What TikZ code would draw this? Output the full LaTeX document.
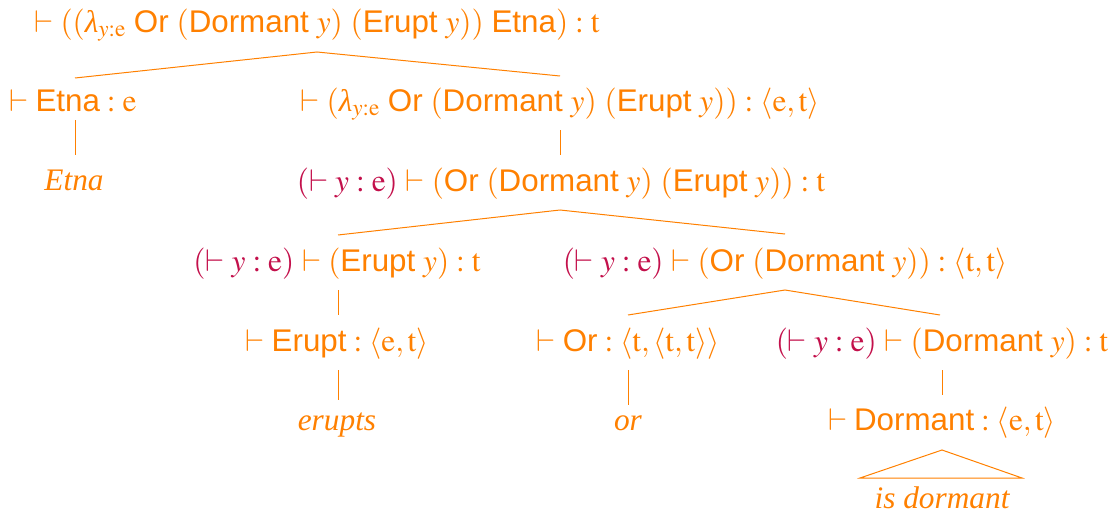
\documentclass[tikz,border=0pt]{standalone}
\usepackage{mathptmx}
\usepackage[no-math]{fontspec}
\setmainfont{Liberation Serif}
\setsansfont{Liberation Sans}
\usetikzlibrary{calc}
\definecolor{termcol}{RGB}{255,128,0}
\definecolor{hypcol}{RGB}{195,16,75}
\newcommand\konst[1]{\textsf{#1}}
\newcommand\lam{\mbox{\itshape λ}}
\newcommand\hyp{\textcolor{hypcol}{$(\vdash y:\mathrm{e})$}}
\begin{document}
\begin{tikzpicture}[x=0.75pt,y=-0.75pt,
  lbl/.style={anchor=base, inner sep=0pt, text=termcol, font=\fontsize{23.5}{28}\selectfont},
  br/.style={draw=termcol, line width=0.75pt}]
\useasboundingbox (0,0) rectangle (1117,514);

% derivation nodes
\node[lbl] (root) at (317,32) {$\vdash ((\lam_{y:\mathrm{e}}\ \konst{Or}\ (\konst{Dormant}\ y)\ (\konst{Erupt}\ y))\ \konst{Etna}) : \mathrm{t}$};
\node[lbl] (etna) at (73,111) {$\vdash \konst{Etna} : \mathrm{e}$};
\node[lbl] (abs) at (560,111) {$\vdash (\lam_{y:\mathrm{e}}\ \konst{Or}\ (\konst{Dormant}\ y)\ (\konst{Erupt}\ y)) : \langle\mathrm{e},\mathrm{t}\rangle$};
\node[lbl] (etnaw) at (74,190) {\itshape Etna};
\node[lbl] (body) at (561,191) {\hyp\ $\vdash (\konst{Or}\ (\konst{Dormant}\ y)\ (\konst{Erupt}\ y)) : \mathrm{t}$};
\node[lbl] (erY) at (337,271) {\hyp\ $\vdash (\konst{Erupt}\ y) : \mathrm{t}$};
\node[lbl] (orD) at (785,271) {\hyp\ $\vdash (\konst{Or}\ (\konst{Dormant}\ y)) : \langle\mathrm{t},\mathrm{t}\rangle$};
\node[lbl] (erupt) at (337,351) {$\vdash \konst{Erupt} : \langle\mathrm{e},\mathrm{t}\rangle$};
\node[lbl] (or) at (628,351) {$\vdash \konst{Or} : \langle\mathrm{t},\langle\mathrm{t},\mathrm{t}\rangle\rangle$};
\node[lbl] (dormY) at (942,351) {\hyp\ $\vdash (\konst{Dormant}\ y) : \mathrm{t}$};
\node[lbl] (erupts) at (337,430) {\itshape erupts};
\node[lbl] (orw) at (628,430) {\itshape or};
\node[lbl] (dormant) at (942,430) {$\vdash \konst{Dormant} : \langle\mathrm{e},\mathrm{t}\rangle$};
\node[lbl] (isd) at (942,508) {\itshape is dormant};

% branches
\draw[br] ($(etna.base)+(2,-33)$) -- ($(root.base)+(0,20)$) -- ($(abs.base)+(0,-35)$);
\draw[br] ($(etna.base)+(2,9)$) -- ($(etnaw.base)+(1,-35)$);
\draw[br] ($(abs.base)+(0,19)$) -- ($(body.base)+(-1,-36)$);
\draw[br] ($(erY.base)+(1,-36)$) -- ($(body.base)+(-1,19)$) -- ($(orD.base)+(0,-37)$);
\draw[br] ($(erY.base)+(1,19)$) -- ($(erupt.base)+(1,-36)$);
\draw[br] ($(or.base)+(0,-36)$) -- ($(orD.base)+(0,19)$) -- ($(dormY.base)+(-2,-36)$);
\draw[br] ($(erupt.base)+(1,19)$) -- ($(erupts.base)+(1,-30)$);
\draw[br] ($(or.base)+(0,19)$) -- ($(orw.base)+(0,-25)$);
\draw[br] ($(dormY.base)+(0,19)$) -- ($(dormant.base)+(0,-35)$);
% roof over the unanalysed phrase
\draw[br] ($(dormant.base)+(0,20)$) -- ($(isd.base)+(-82,-30)$) -- ($(isd.base)+(80,-30)$) -- cycle;
\end{tikzpicture}
\end{document}
